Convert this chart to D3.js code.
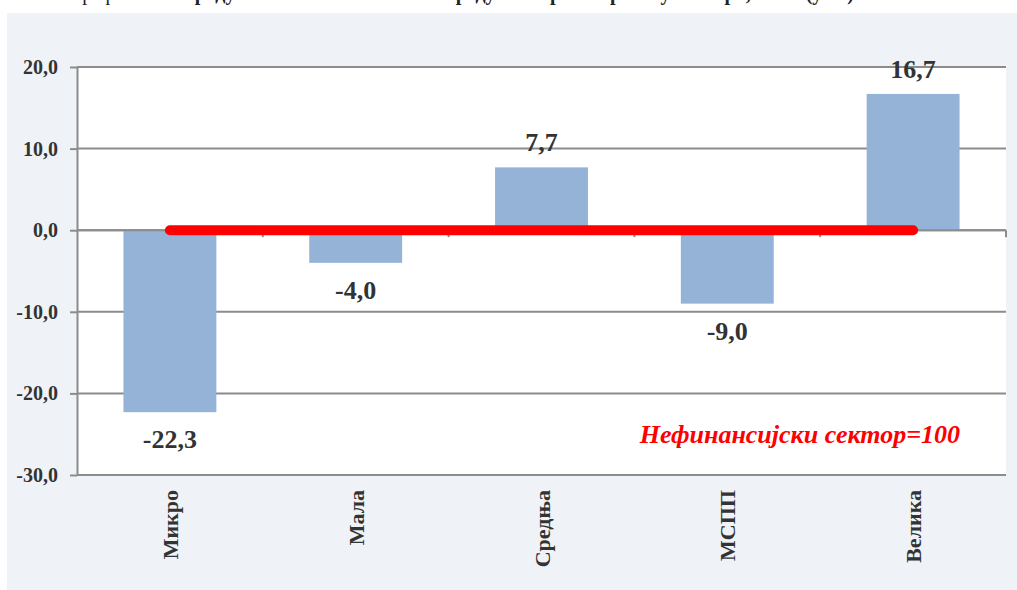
<!DOCTYPE html>
<html><head><meta charset="utf-8">
<script src="https://cdn.jsdelivr.net/npm/d3@7/dist/d3.min.js"></script>
<style>
html,body{margin:0;padding:0;background:#fff;}
svg{display:block;}
</style></head>
<body>
<svg id="chart" width="1017" height="590"></svg>
<script>
// Data
const categories = ["Микро", "Мала", "Средња", "МСПП", "Велика"];
const values = [-22.3, -4.0, 7.7, -9.0, 16.7];
const baseline = [0, 0, 0, 0, 0];
const yTicks = [-30, -20, -10, 0, 10, 20];
const legendLabel = "Нефинансијски сектор=100";
const titleParts = ["Графикон 5. ", "Продуктивност по величини предузећа према просеку сектора, 2019. (у %)"];

const svg = d3.select("#chart");
const W = 1017, H = 590;
const fmt = v => d3.format(".1f")(v).replace(".", ",").replace("−", "-");
const FONT = "Liberation Serif, Times New Roman, serif";

// panel
svg.append("rect").attr("x", 7).attr("y", 13).attr("width", W - 7).attr("height", H - 13).attr("fill", "#eff3f8");

// title (cut off at the top edge, as in the reference)
svg.append("text").attr("x", 72).attr("y", 0)
  .attr("font-family", FONT).attr("font-size", 20).attr("fill", "#222")
  .call(t => {
    t.append("tspan").text(titleParts[0]);
    t.append("tspan").attr("font-weight", "bold").text(titleParts[1]);
  });

const plot = {left: 77, right: 1006, top: 67, bottom: 475};
svg.append("rect").attr("x", plot.left).attr("y", plot.top)
  .attr("width", plot.right - plot.left).attr("height", plot.bottom - plot.top).attr("fill", "#fff");

const x = d3.scaleBand().domain(categories).range([plot.left, plot.right]).paddingInner(0.5).paddingOuter(0.25);
const y = d3.scaleLinear().domain([-30, 20]).range([plot.bottom, plot.top]);

const gridColor = "#8c8c8c";
// gridlines
svg.append("g").selectAll("line").data(yTicks).join("line")
  .attr("x1", plot.left).attr("x2", plot.right)
  .attr("y1", d => y(d)).attr("y2", d => y(d))
  .attr("stroke", gridColor).attr("stroke-width", 2);

// y axis
const yAxis = svg.append("g").attr("transform", `translate(${plot.left},0)`)
  .call(d3.axisLeft(y).tickValues(yTicks).tickSize(7).tickSizeOuter(0).tickPadding(12).tickFormat(fmt));
yAxis.select(".domain").attr("stroke", gridColor).attr("stroke-width", 2);
yAxis.selectAll(".tick line").attr("stroke", gridColor).attr("stroke-width", 2);
yAxis.selectAll(".tick text")
  .attr("font-family", FONT).attr("font-size", 20)
  .attr("font-weight", "bold").attr("fill", "#333");

// bars
svg.append("g").selectAll("rect").data(values).join("rect")
  .attr("x", (d, i) => x(categories[i]))
  .attr("width", x.bandwidth())
  .attr("y", d => y(Math.max(0, d)))
  .attr("height", d => Math.abs(y(d) - y(0)))
  .attr("fill", "#95b3d7");

// zero axis
const step = x.step();
const boundaries = categories.map((c, i) => plot.left + step * (i + 1));
svg.append("line").attr("x1", plot.left).attr("x2", plot.right).attr("y1", y(0)).attr("y2", y(0))
  .attr("stroke", gridColor).attr("stroke-width", 2);
svg.append("g").selectAll("line").data(boundaries).join("line")
  .attr("x1", d => d).attr("x2", d => d).attr("y1", y(0)).attr("y2", y(0) + 7)
  .attr("stroke", gridColor).attr("stroke-width", 2);

// red reference line
const line = d3.line().x((d, i) => x(categories[i]) + x.bandwidth() / 2).y(d => y(d));
svg.append("path").datum(baseline).attr("d", line)
  .attr("fill", "none").attr("stroke", "#ff0000").attr("stroke-width", 10).attr("stroke-linecap", "round");

// data labels
svg.append("g").selectAll("text").data(values).join("text")
  .attr("x", (d, i) => x(categories[i]) + x.bandwidth() / 2)
  .attr("y", d => d >= 0 ? y(d) - 16 : y(d) + 36)
  .attr("text-anchor", "middle")
  .attr("font-family", FONT).attr("font-size", 26)
  .attr("font-weight", "bold").attr("fill", "#333")
  .text(fmt);

// category labels
svg.append("g").selectAll("text").data(categories).join("text")
  .attr("transform", d => `translate(${x(d) + x.bandwidth() / 2 + 8},490) rotate(-90)`)
  .attr("text-anchor", "end")
  .attr("font-family", FONT).attr("font-size", 22)
  .attr("font-weight", "bold").attr("fill", "#333")
  .text(d => d);

// legend-like label
svg.append("text").attr("x", 960).attr("y", 443).attr("text-anchor", "end")
  .attr("font-family", FONT).attr("font-size", 26)
  .attr("font-weight", "bold").attr("font-style", "italic").attr("fill", "#ff0000")
  .text(legendLabel);
</script>
</body></html>
